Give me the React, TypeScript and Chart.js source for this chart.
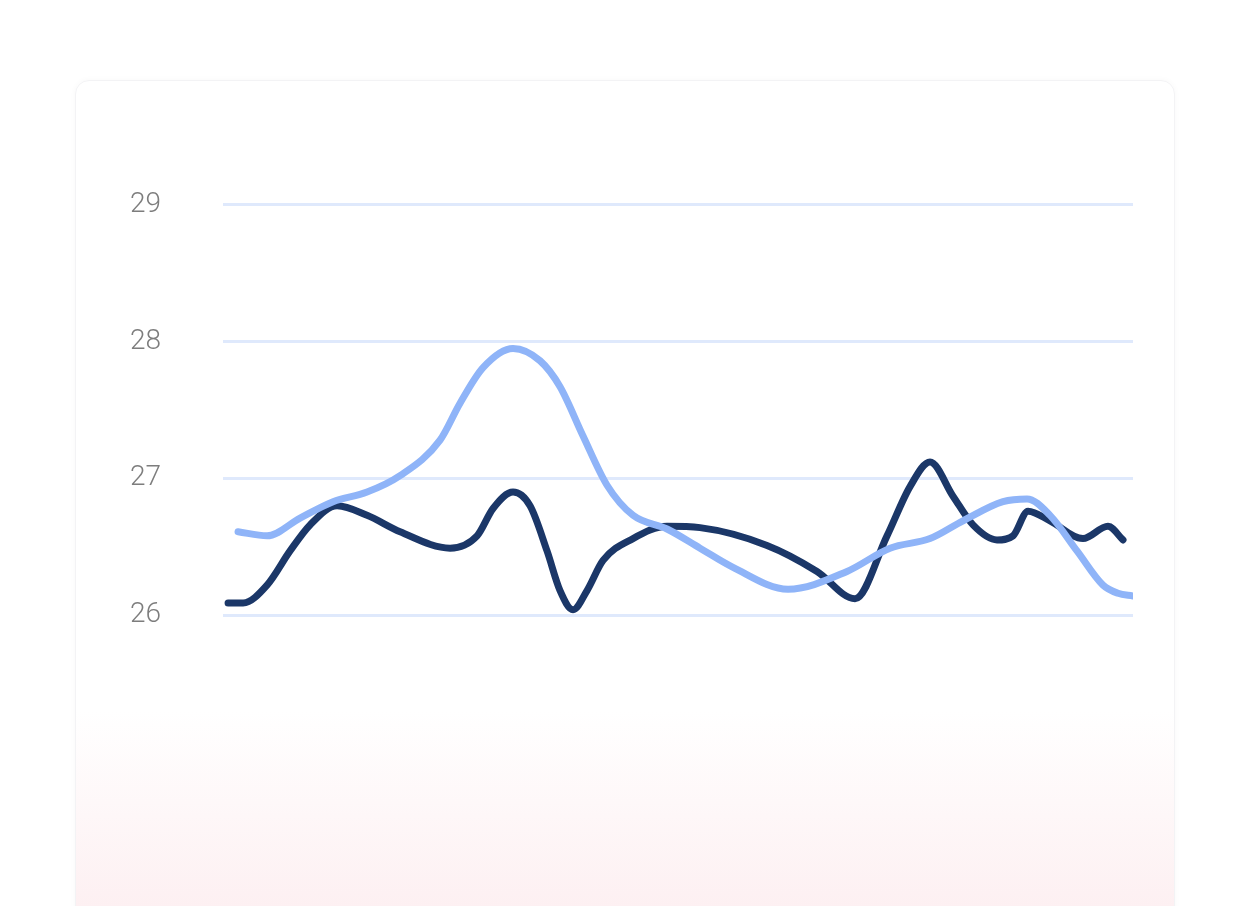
import { useEffect, useRef } from "react";
import { Chart, registerables } from "chart.js";

Chart.register(...registerables);

// x in days along the hidden axis, y in the plotted unit (26–29)
const lightX = [1.5, 4.4, 7.7, 11.0, 14.4, 17.7, 21.7, 23.7, 26.0, 29.0, 31.7, 33.7, 36.0, 38.4, 41.0, 44.4, 47.7, 51.0, 56.5, 62.4, 66.7, 70.7, 74.0, 78.0, 80.4, 82.7, 85.4, 88.0, 89.5, 91.0];
const lightY = [26.61, 26.58, 26.71, 26.83, 26.9, 27.02, 27.28, 27.55, 27.81, 27.95, 27.86, 27.67, 27.31, 26.95, 26.73, 26.63, 26.49, 26.35, 26.19, 26.32, 26.49, 26.56, 26.69, 26.83, 26.85, 26.73, 26.47, 26.22, 26.16, 26.14];

const darkX = [0.5, 2.0, 4.4, 6.7, 8.7, 11.4, 14.4, 17.7, 22.7, 25.4, 27.0, 29.0, 30.7, 32.4, 33.7, 35.0, 36.4, 38.0, 41.0, 44.4, 47.7, 54.4, 59.4, 63.2, 66.4, 68.7, 70.7, 73.0, 75.0, 77.4, 79.0, 80.5, 82.7, 86.0, 88.5, 90.0];
const darkY = [26.09, 26.09, 26.22, 26.47, 26.66, 26.8, 26.73, 26.61, 26.49, 26.58, 26.78, 26.9, 26.8, 26.47, 26.18, 26.04, 26.18, 26.4, 26.56, 26.65, 26.64, 26.51, 26.32, 26.12, 26.58, 26.94, 27.12, 26.87, 26.66, 26.55, 26.58, 26.76, 26.69, 26.56, 26.65, 26.55];

const yTicks = [26, 27, 28, 29];

const toPoints = (xs: number[], ys: number[]) => xs.map((x, i) => ({ x, y: ys[i] }));

export default function App() {
  const canvasRef = useRef<HTMLCanvasElement | null>(null);

  useEffect(() => {
    if (!canvasRef.current) return;
    const chart = new Chart(canvasRef.current, {
      type: "line",
      data: {
        datasets: [
          {
            label: "Light",
            data: toPoints(lightX, lightY),
            borderColor: "#8fb4f8",
            borderWidth: 7,
            pointRadius: 0,
            cubicInterpolationMode: "monotone",
            borderCapStyle: "round",
            borderJoinStyle: "round",
            fill: false,
          },
          {
            label: "Dark",
            data: toPoints(darkX, darkY),
            borderColor: "#1b3768",
            borderWidth: 7,
            pointRadius: 0,
            cubicInterpolationMode: "monotone",
            borderCapStyle: "round",
            borderJoinStyle: "round",
            fill: false,
          },
        ],
      },
      options: {
        responsive: true,
        maintainAspectRatio: false,
        animation: false,
        layout: { padding: { top: 0, right: 17, bottom: 0, left: 18 } },
        plugins: {
          legend: { display: false },
          tooltip: { enabled: false },
        },
        scales: {
          x: { type: "linear", min: 0, max: 91, display: false },
          y: {
            min: 26,
            max: 29,
            afterBuildTicks: (axis) => {
              axis.ticks = yTicks.map((v) => ({ value: v }));
            },
            border: { display: false },
            grid: { color: "#dfe9fc", lineWidth: 3, drawTicks: false },
            ticks: {
              color: "#7d7d7d",
              padding: 62,
              font: { family: "Roboto", size: 28, weight: 300 },
            },
          },
        },
      },
    });
    return () => chart.destroy();
  }, []);

  return (
    <div style={{ position: "fixed", inset: 0, background: "#ffffff", overflow: "hidden" }}>
      <div
        style={{
          position: "absolute",
          left: 75,
          top: 80,
          width: 1098,
          height: 860,
          borderRadius: 14,
          border: "1px solid #f3f3f5",
          boxShadow: "0 0 6px rgba(0,0,0,0.03)",
          background: "linear-gradient(to bottom, #ffffff 0px, #ffffff 630px, #fdf0f2 826px)",
        }}
      />
      <div style={{ position: "absolute", left: 50, top: 126, width: 1100, height: 568 }}>
        <canvas ref={canvasRef} />
      </div>
    </div>
  );
}
